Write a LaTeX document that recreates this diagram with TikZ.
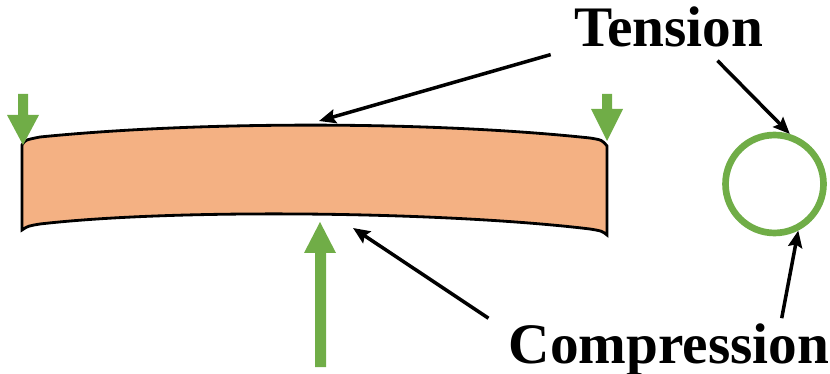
\documentclass[tikz,border=0pt]{standalone}
\usepackage{fontspec}
\setmainfont{Liberation Serif}
\usetikzlibrary{arrows.meta}
\definecolor{beamfill}{HTML}{F4B183}
\definecolor{loadgreen}{HTML}{70AD47}

\begin{document}
\begin{tikzpicture}[x=0.02cm, y=-0.02cm,
    bigtext/.style={font=\fontsize{32.6}{38}\selectfont\bfseries, inner sep=0pt, anchor=base},
    pointer/.style={-{Stealth[length=9.5pt,width=8pt,inset=1.5pt]}, line width=2pt},
    load/.style={fill=loadgreen}]
  \useasboundingbox (0,0) rectangle (830,374);
  % beam
  \draw[fill=beamfill, line width=1.6pt] (22,230) -- (22,145) .. controls (25,140) .. (40,137)
    .. controls (200,121) and (430,121) .. (590,138) .. controls (602,140) .. (607,146) -- (607,235)
    .. controls (602,231) .. (590,229) .. controls (450,212) and (180,208) .. (40,224)
    .. controls (28,226) .. (22,230) -- cycle;
  % loads
  \fill[load] (18,94) -- (28,94) -- (28,115) -- (39,115) -- (23,145) -- (7,115) -- (18,115) -- cycle;
  \fill[load] (602,94) -- (612,94) -- (612,109) -- (623,109) -- (607,141) -- (591,109) -- (602,109) -- cycle;
  \fill[load] (315,367) -- (326,367) -- (326,253) -- (336,253) -- (320,222) -- (304,253) -- (315,253) -- cycle;
  % cross section
  \node[draw=loadgreen, line width=3.8pt, circle, inner sep=0pt, minimum size=1.96cm] (ring) at (774.5,184) {};
  \node[bigtext] (tension) at (668.5,46.7) {Tension};
  \node[bigtext] (compression) at (669,363.3) {Compression};
  \coordinate (toptip) at (319,121);
  \coordinate (bottip) at (353,228);
  \draw[pointer] ([shift={(-23,7)}]tension.south west) -- (toptip);
  \draw[pointer] ([shift={(49,14)}]tension.base) -- (ring.73);
  \draw[pointer] ([shift={(-20,-5)}]compression.north west) -- (bottip);
  \draw[pointer] ([shift={(112.7,-5)}]compression.north) -- (ring.-63);
\end{tikzpicture}
\end{document}
